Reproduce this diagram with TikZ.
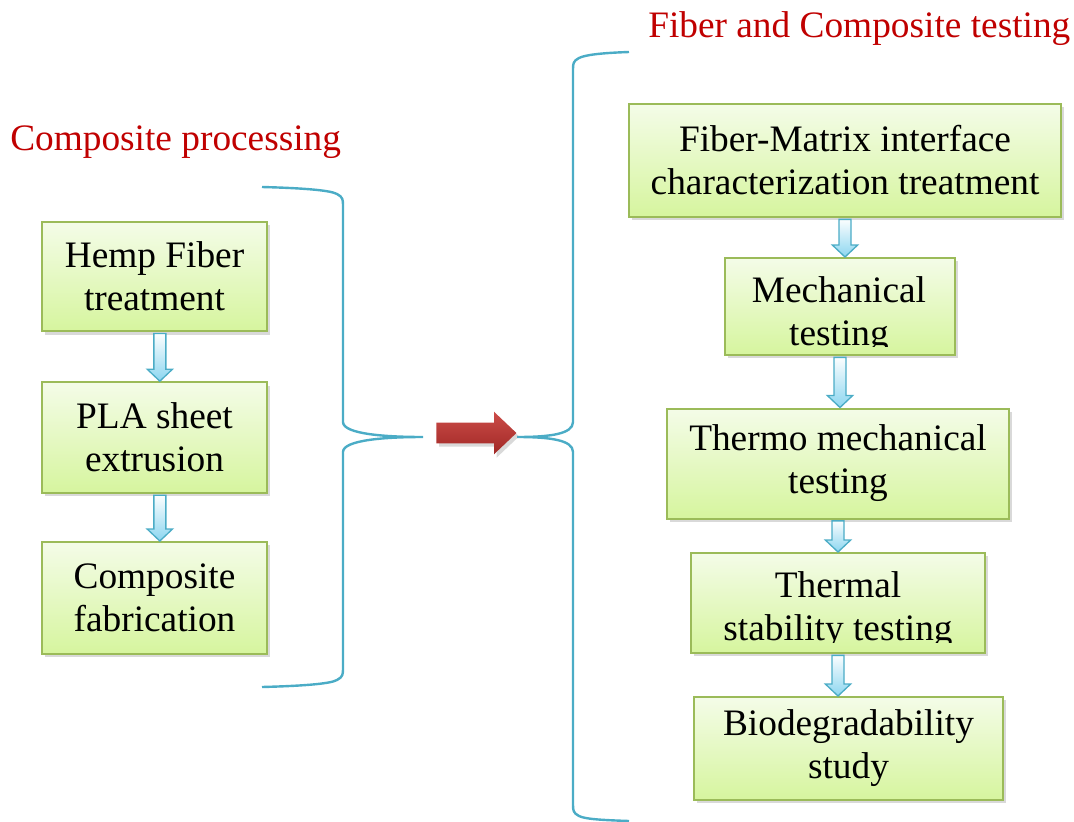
\documentclass[tikz,border=0pt]{standalone}
\usepackage{fontspec}
\setmainfont{Liberation Serif}
\usetikzlibrary{shadows,shapes.arrows,calc}

\definecolor{boxline}{RGB}{155,187,89}
\definecolor{boxtop}{RGB}{244,252,232}
\definecolor{boxbottom}{RGB}{214,245,158}
\definecolor{braceblue}{RGB}{75,172,198}
\definecolor{arrowfill}{RGB}{140,214,240}
\definecolor{titlered}{RGB}{192,0,0}
\definecolor{bigred}{RGB}{204,76,72}
\definecolor{bigreddark}{RGB}{160,40,38}

\tikzset{
  stepbox/.style={draw=boxline, line width=1.5pt, top color=boxtop, bottom color=boxbottom,
    drop shadow={opacity=0.3, shadow xshift=2pt, shadow yshift=-2.5pt},
    align=center, inner sep=0pt, font=\fontsize{28}{32.25}\selectfont},
  boxtext/.style={align=center, inner sep=0pt, font=\fontsize{28}{32.25}\selectfont},
  title/.style={text=titlered, inner sep=0pt, font=\fontsize{28}{32.25}\selectfont},
  brace/.style={draw=braceblue, line width=1.8pt},
  downarrow/.style={draw=braceblue, line width=1pt, top color=white, bottom color=arrowfill,
    to path={let \p1=(\tikztostart), \p2=(\tikztotarget) in
      (\x1-4.5pt,\y1-1pt) -- (\x1+4.5pt,\y1-1pt) -- (\x1+4.5pt,\y2+9pt) -- (\x1+9.5pt,\y2+9pt)
      -- (\x1,\y2) -- (\x1-9.5pt,\y2+9pt) -- (\x1-4.5pt,\y2+9pt) -- cycle}},
  bigarrow/.style={single arrow, single arrow head extend=8.25pt, single arrow tip angle=87,
    single arrow head indent=0pt, minimum height=60pt, inner sep=7.5pt,
    top color=bigred, bottom color=bigreddark,
    drop shadow={opacity=0.3, shadow xshift=2pt, shadow yshift=-2.5pt}}
}

\begin{document}
\begin{tikzpicture}[x=0.75pt, y=-0.75pt]
  \useasboundingbox (0,0) rectangle (1074,821);

  % Composite processing
  \node[title, anchor=base west] (proctitle) at (10,150) {Composite processing};
  \node[stepbox, minimum width=168.75pt, minimum height=82pt] (hemp) at (154.5,276.5) {Hemp Fiber\\treatment};
  \node[stepbox, minimum width=168.75pt, minimum height=83pt] (pla) at (154.5,437.5) {PLA sheet\\extrusion};
  \node[stepbox, minimum width=168.75pt, minimum height=84pt] (fab) at (154.5,598) {Composite\\fabrication};
  \draw[downarrow] ([xshift=4pt]hemp.south) to ([xshift=4pt]pla.north);
  \draw[downarrow] ([xshift=4pt]pla.south) to ([xshift=4pt]fab.north);

  \draw[brace] (262,187) .. controls (300,188) and (330,190) .. (337,194)
    .. controls (343,197) and (343,200) .. (343,206) -- (343,422)
    .. controls (343,434) and (385,437) .. (423,437)
    .. controls (385,437) and (343,440) .. (343,452) -- (343,668)
    .. controls (343,674) and (343,677) .. (337,680)
    .. controls (330,684) and (300,686) .. (262,687);

  \node[bigarrow] (go) at (471,433) {};

  % Fiber and Composite testing
  \draw[brace] (629,52) .. controls (600,53) and (585,55) .. (579,58)
    .. controls (573,61) and (573,64) .. (573,70) -- (573,422)
    .. controls (573,434) and (550,437) .. (517,437)
    .. controls (550,437) and (573,440) .. (573,452) -- (573,804)
    .. controls (573,810) and (573,813) .. (579,816)
    .. controls (585,819) and (600,820) .. (629,821);

  \node[title, anchor=base west] (testtitle) at (648,37) {Fiber and Composite testing};
  \node[stepbox, minimum width=324pt, minimum height=84.75pt] (interface) at (845,160.5) {Fiber-Matrix interface\\characterization treatment};
  \node[stepbox, minimum width=172.5pt, minimum height=72.75pt] (mech) at (840,306.5) {};
  \begin{scope}
    \clip ([yshift=7.5pt]mech.south west) rectangle (mech.north east);
    \node[boxtext] (mechtxt) at (839,315) {Mechanical\\testing};
  \end{scope}
  \node[stepbox, minimum width=256.5pt, minimum height=82.5pt] (thermo) at (838,463.5) {Thermo mechanical\\testing};
  \node[stepbox, minimum width=220.5pt, minimum height=75pt] (thermal) at (838,603) {};
  \begin{scope}
    \clip ([yshift=9pt]thermal.south west) rectangle (thermal.north east);
    \node[boxtext] (thermaltxt) at (838,610.5) {Thermal\\stability testing};
  \end{scope}
  \node[stepbox, minimum width=231.75pt, minimum height=77.25pt] (bio) at (848.5,748.5) {Biodegradability\\study};

  \draw[downarrow] (interface.south) to (mech.north);
  \draw[downarrow] (mech.south) to (thermo.north);
  \draw[downarrow] (thermo.south) to (thermal.north);
  \draw[downarrow] (thermal.south) to (bio.north);

\end{tikzpicture}
\end{document}
